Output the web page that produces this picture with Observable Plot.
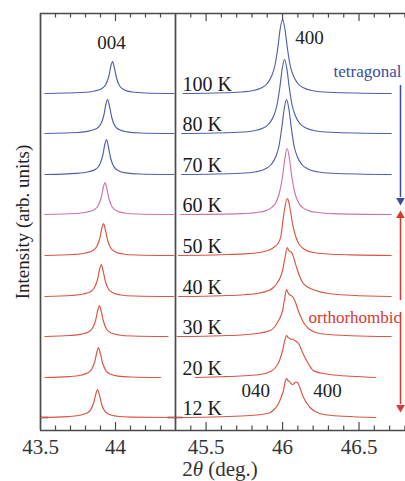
<!DOCTYPE html>
<html><head><meta charset="utf-8">
<script src="https://cdn.jsdelivr.net/npm/d3@7"></script>
<script src="https://cdn.jsdelivr.net/npm/@observablehq/plot@0.6"></script>
<style>
body{margin:0;background:#fff;}
#wrap{width:405px;height:481px;overflow:hidden;position:relative;font-family:'Liberation Serif','DejaVu Serif',serif;}
#xlab{position:absolute;left:0;top:459px;width:440px;text-align:center;font-family:'Liberation Serif','DejaVu Serif',serif;font-size:21px;line-height:21px;color:#333;}
svg text{font-family:'Liberation Serif','DejaVu Serif',serif;}
</style></head><body>
<div id="wrap"><div id="chart"></div><div id="xlab">2<i>θ</i> (deg.)</div></div>
<script>
// temperatures (bottom to top) and vertical offsets (arb. units)
const temps = ["12 K","20 K","30 K","40 K","50 K","60 K","70 K","80 K","100 K"];
const offsets = [0,40,81,121,162,203,243,284,324];
const phases = ["ortho","ortho","ortho","ortho","ortho","mid","tetra","tetra","tetra"];

// 004 reflection (left panel): [2theta, intensity]
const left12 = [[43.50,0],[43.68,0.9],[43.76,2.2],[43.81,4.4],[43.835,7.9],[43.855,15],[43.87,24],[43.88,28],[43.892,23],[43.908,13],[43.93,6.1],[43.96,3.1],[44.01,1.3],[44.10,0.4],[44.40,0]];
const left20 = [[43.53,0],[43.687,0.9],[43.767,2.3],[43.817,4.7],[43.842,8.4],[43.862,16],[43.877,26],[43.887,30],[43.899,24],[43.915,14],[43.937,6.6],[43.967,3.3],[44.017,1.4],[44.107,0.5],[44.30,0]];
const left30 = [[43.53,0],[43.693,1],[43.773,2.4],[43.823,4.8],[43.848,8.7],[43.868,16.5],[43.883,27],[43.893,31],[43.905,25],[43.921,14.5],[43.943,6.8],[43.973,3.4],[44.023,1.5],[44.113,0.5],[44.35,0]];
const left40 = [[43.53,0],[43.705,1],[43.785,2.5],[43.835,5],[43.86,9],[43.88,17],[43.895,28],[43.905,32],[43.917,26],[43.933,15],[43.955,7],[43.985,3.5],[44.035,1.5],[44.125,0.5],[44.39,0]];
const left50 = [[43.53,0],[43.72,1],[43.80,2.5],[43.85,5],[43.875,9],[43.895,17],[43.91,28],[43.92,32],[43.932,26],[43.948,15],[43.97,7],[44.00,3.5],[44.05,1.5],[44.14,0.5],[44.39,0]];
const left60 = [[43.53,0],[43.73,1],[43.81,2.5],[43.86,5],[43.885,9],[43.905,17],[43.92,28],[43.93,32],[43.942,26],[43.958,15],[43.98,7],[44.01,3.5],[44.06,1.5],[44.15,0.5],[44.39,0]];
const left70 = [[43.53,0],[43.74,1.1],[43.82,2.7],[43.87,5.5],[43.895,10],[43.915,19],[43.93,31],[43.94,35],[43.952,28],[43.968,16],[43.99,7.6],[44.02,3.8],[44.07,1.6],[44.16,0.5],[44.39,0]];
const left80 = [[43.53,0],[43.747,1],[43.827,2.6],[43.877,5.3],[43.902,9.5],[43.922,18],[43.937,30],[43.947,34],[43.959,28],[43.975,16],[43.997,7.4],[44.027,3.7],[44.077,1.6],[44.167,0.5],[44.39,0]];
const left100 = [[43.53,0],[43.78,1],[43.86,2.5],[43.91,5],[43.935,9],[43.955,17],[43.97,28],[43.98,32],[43.992,26],[44.008,15],[44.03,7],[44.06,3.5],[44.11,1.5],[44.2,0.5],[44.39,0]];

// 400 / 040 reflections (right panel): [2theta, intensity]
const right12 = [[45.3,0],[45.6,0.8],[45.79,2],[45.88,3.5],[45.92,5],[45.95,9],[45.974,14],[45.99,20],[46.006,27],[46.016,35],[46.026,39],[46.035,37],[46.045,36],[46.055,34],[46.065,33],[46.075,34],[46.085,35.5],[46.098,35],[46.115,29],[46.137,20],[46.16,14],[46.18,10],[46.22,5.5],[46.27,3],[46.4,1.2],[46.61,0]];
const right20 = [[45.43,0],[45.6,0.8],[45.75,1.8],[45.856,3],[45.92,6],[45.954,10],[45.98,17],[46.0,27],[46.013,36],[46.026,42],[46.035,40],[46.045,39.5],[46.055,38],[46.065,38.5],[46.078,37],[46.09,36],[46.105,34],[46.125,27],[46.15,19],[46.175,12],[46.2,7],[46.25,4.5],[46.31,3],[46.45,1.2],[46.61,0]];
const right30 = [[45.31,0],[45.6,0.8],[45.75,1.8],[45.85,3.5],[45.92,6],[45.95,10],[45.974,16],[45.99,21],[46.0,26],[46.013,37],[46.026,47],[46.035,44],[46.045,42],[46.055,41],[46.07,39],[46.085,34],[46.1,27],[46.11,23],[46.137,14],[46.17,8],[46.216,4],[46.3,2],[46.45,0.8],[46.71,0]];
const right40 = [[45.32,0],[45.6,0.8],[45.75,1.8],[45.85,3.5],[45.908,6],[45.94,9],[45.967,14],[45.985,19],[46.0,26],[46.015,38],[46.031,49],[46.04,46],[46.05,45],[46.063,43],[46.08,35],[46.098,26],[46.115,19],[46.131,14],[46.17,9],[46.216,6],[46.3,3],[46.45,1.2],[46.71,0]];
const right50 = [[45.32,0],[45.6,0.8],[45.75,1.6],[45.85,3],[45.92,6],[45.95,9],[45.97,12],[45.99,20],[46.0,32],[46.015,48],[46.03,57],[46.04,54],[46.05,46],[46.065,32],[46.08,22],[46.105,12],[46.14,6.5],[46.2,3],[46.3,1.5],[46.45,0.6],[46.71,0]];
const right60 = [[45.33,0],[45.73,0.9],[45.83,2],[45.89,3.9],[45.93,7.2],[45.96,13],[45.98,22],[46.0,38],[46.015,56],[46.03,66],[46.045,56],[46.06,38],[46.08,22],[46.1,13],[46.13,7.2],[46.17,3.9],[46.23,2],[46.33,0.9],[46.71,0]];
const right70 = [[45.34,0],[45.726,1.3],[45.826,2.8],[45.886,5.6],[45.926,10],[45.956,18],[45.976,28],[45.996,48],[46.011,66],[46.026,75],[46.041,66],[46.056,48],[46.076,28],[46.096,18],[46.126,10],[46.166,5.6],[46.226,2.8],[46.326,1.3],[46.71,0]];
const right80 = [[45.34,0],[45.713,1.3],[45.813,2.8],[45.873,5.5],[45.913,10],[45.943,18],[45.963,28],[45.983,47],[45.998,65],[46.013,74],[46.028,65],[46.043,47],[46.063,28],[46.083,18],[46.113,10],[46.153,5.5],[46.213,2.8],[46.313,1.3],[46.71,0]];
const right100 = [[45.35,0],[45.70,1.3],[45.80,2.8],[45.86,5.5],[45.90,10],[45.93,18],[45.95,28],[45.97,47],[45.985,65],[46.00,74],[46.015,65],[46.03,47],[46.05,28],[46.07,18],[46.10,10],[46.14,5.5],[46.20,2.8],[46.30,1.3],[46.71,0]];

const leftSets = [left12,left20,left30,left40,left50,left60,left70,left80,left100];
const rightSets = [right12,right20,right30,right40,right50,right60,right70,right80,right100];

// peak labels: [text, 2theta, level]
const peakLabels = [["004",43.973,369],["400",46.176,374],["040",45.824,21],["400",46.294,21]];
const tickLabels = [43.5,44,45.5,46,46.5];

// build table
const rows = [];
temps.forEach((t,i)=>{
  leftSets[i].forEach(([x,v])=>rows.push({temp:t, panel:"L", phase:phases[i], x, y:v+offsets[i]}));
  rightSets[i].forEach(([x,v])=>rows.push({temp:t, panel:"R", phase:phases[i], x, y:v+offsets[i]}));
});

const yMin = -13, yMax = 404;
const frameColor = "#4a4a4a";
const serif = "'Liberation Serif','DejaVu Serif',serif";
const colorOf = {ortho:"#dc5443", mid:"#cc74ae", tetra:"#5160aa"};
const minorTicks = d3.range(43.6, 44.35, 0.1).concat(d3.range(45.4, 47.0, 0.1)).filter(v=>!tickLabels.some(t=>Math.abs(t-v)<1e-6));
const majorTicks = [44,45.5,46,46.5];

const chart = Plot.plot({
  width: 405, height: 460,
  marginTop: 13, marginBottom: 30, marginLeft: 40, marginRight: 0,
  style: {fontFamily: serif, background: "#fff", overflow: "hidden"},
  x: {type: "linear", domain: [43.5, 44.4, 45.3, 47.0], range: [40, 175, 175, 435], axis: null},
  y: {domain: [yMin, yMax], axis: null},
  marks: [
    // frame
    Plot.ruleY([yMin, yMax], {stroke: frameColor, strokeWidth: 1.7}),
    Plot.ruleX([43.5, 44.4], {y1: yMin, y2: yMax, stroke: frameColor, strokeWidth: 1.7}),
    // ticks (inward)
    Plot.ruleX(minorTicks, {y1: yMin, y2: yMin + 4.5, stroke: frameColor, strokeWidth: 1.2}),
    Plot.ruleX(minorTicks, {y1: yMax, y2: yMax - 4.5, stroke: frameColor, strokeWidth: 1.2}),
    Plot.ruleX(majorTicks, {y1: yMin, y2: yMin + 8, stroke: frameColor, strokeWidth: 1.2}),
    Plot.ruleX(majorTicks, {y1: yMax, y2: yMax - 8, stroke: frameColor, strokeWidth: 1.2}),
    // zero marks
    Plot.ruleY([0], {x1: 43.5, x2: 43.555, stroke: "#222", strokeWidth: 1.5}),
    Plot.ruleY([0], {x1: 44.35, x2: 45.35, stroke: "#222", strokeWidth: 1.5}),
    // spectra
    Plot.line(rows, {x: "x", y: "y", z: d => d.temp + d.panel, stroke: d => colorOf[d.phase], strokeWidth: 1.15, curve: "monotone-x"}),
    // temperature labels
    Plot.text(temps, {x: 45.346, y: (d,i) => offsets[i], text: d => d, textAnchor: "start", lineAnchor: "bottom", dy: -3, fontSize: 20, fontFamily: serif, fill: "#1a1a1a"}),
    // peak labels
    Plot.text(peakLabels, {x: d => d[1], y: d => d[2], text: d => d[0], lineAnchor: "bottom", fontSize: 19, fontFamily: serif, fill: "#222"}),
    // tick labels
    Plot.text(tickLabels, {x: d => d, y: yMin, text: d => String(d), lineAnchor: "top", dy: 9, fontSize: 21, fontFamily: serif, fill: "#333"}),
    // y label
    Plot.text(["Intensity (arb. units)"], {frameAnchor: "left", textAnchor: "middle", rotate: -90, dx: -18, fontSize: 19, fontFamily: serif, fill: "#222"}),
    // phase annotations
    Plot.text(["tetragonal"], {x: 46.333, y: 341, text: d => d, textAnchor: "start", lineAnchor: "bottom", fontSize: 17, fontFamily: serif, fill: "#3a4c9e"}),
    Plot.text(["orthorhombic"], {x: 46.17, y: 95, text: d => d, textAnchor: "start", lineAnchor: "bottom", fontSize: 17, fontFamily: serif, fill: "#d8382f"}),
    // arrows
    Plot.ruleX([46.771], {y1: 332, y2: 220, stroke: "#3a4c9e", strokeWidth: 1.5}),
    Plot.dot([46.771], {x: d => d, y: 217, symbol: "triangle", r: 3.2, fill: "#3a4c9e", stroke: null, rotate: 180}),
    Plot.ruleX([46.771], {y1: 117, y2: 200, stroke: "#d8382f", strokeWidth: 1.5}),
    Plot.dot([46.771], {x: d => d, y: 202, symbol: "triangle", r: 3.2, fill: "#d8382f", stroke: null}),
    Plot.ruleX([46.771], {y1: 105, y2: 13, stroke: "#d8382f", strokeWidth: 1.5}),
    Plot.dot([46.771], {x: d => d, y: 10, symbol: "triangle", r: 3.2, fill: "#d8382f", stroke: null, rotate: 180})
  ]
});
document.getElementById("chart").appendChild(chart);
</script>
</body></html>
